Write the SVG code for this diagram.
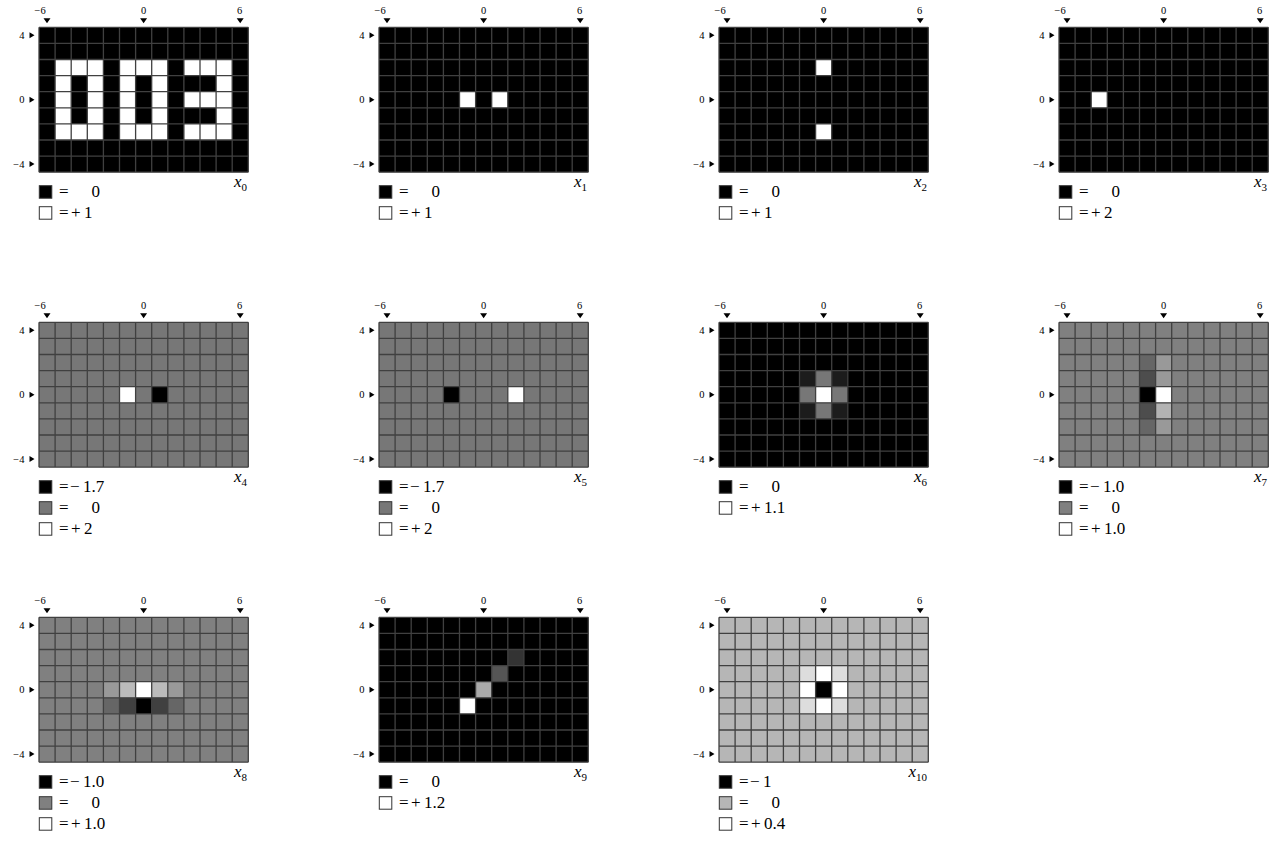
<svg xmlns="http://www.w3.org/2000/svg" xmlns:xlink="http://www.w3.org/1999/xlink" width="1275" height="845" viewBox="0 0 1275 845">
<style>
text{font-family:"Liberation Serif","DejaVu Serif",serif;fill:#000}
.tk{font-size:10.5px}
.lg{font-size:17px}
.lab{font-size:17px}
.sub{font-size:11px;font-style:normal}
.gl{fill:none;stroke:#404040;stroke-width:1.3}
.sw{stroke:#333;stroke-width:1}
</style>
<defs>
<path id="grid" class="gl" d="M39 27.3V172.2M55.1 27.3V172.2M71.2 27.3V172.2M87.3 27.3V172.2M103.4 27.3V172.2M119.5 27.3V172.2M135.6 27.3V172.2M151.7 27.3V172.2M167.8 27.3V172.2M183.9 27.3V172.2M200 27.3V172.2M216.1 27.3V172.2M232.2 27.3V172.2M248.3 27.3V172.2M39 27.3H248.3M39 43.4H248.3M39 59.5H248.3M39 75.6H248.3M39 91.7H248.3M39 107.8H248.3M39 123.9H248.3M39 140H248.3M39 156.1H248.3M39 172.2H248.3"/>
<g id="ticks">
<path d="M43.5 18.3H50.5L47 23.3ZM140.1 18.3H147.1L143.6 23.3ZM236.7 18.3H243.7L240.2 23.3Z" fill="#000"/>
<path d="M29.5 32.3V38.3L34.5 35.3ZM29.5 96.7V102.7L34.5 99.7ZM29.5 161.1V167.1L34.5 164.1Z" fill="#000"/>
<text class="tk" x="45.7" y="14" text-anchor="end">−6</text>
<text class="tk" x="143.5" y="14" text-anchor="middle">0</text>
<text class="tk" x="239.5" y="14" text-anchor="middle">6</text>
<text class="tk" x="24.5" y="38.8" text-anchor="end">4</text>
<text class="tk" x="24.5" y="103.2" text-anchor="end">0</text>
<text class="tk" x="24.5" y="167.6" text-anchor="end">−4</text>
</g>
</defs>

<g id="panel-x0">
<rect x="39" y="27.3" width="209.3" height="144.9" fill="#000"/>
<rect x="55.1" y="59.5" width="48.3" height="80.5" fill="#fff"/>
<rect x="71.2" y="75.6" width="16.1" height="48.3" fill="#000"/>
<rect x="119.5" y="59.5" width="48.3" height="80.5" fill="#fff"/>
<rect x="135.6" y="75.6" width="16.1" height="48.3" fill="#000"/>
<rect x="183.9" y="59.5" width="48.3" height="80.5" fill="#fff"/>
<rect x="183.9" y="75.6" width="32.2" height="16.1" fill="#000"/>
<rect x="183.9" y="107.8" width="32.2" height="16.1" fill="#000"/>
<use xlink:href="#grid"/><use xlink:href="#ticks"/>
<rect class="sw" x="39.3" y="185.7" width="12.5" height="12.5" fill="#000"/>
<text class="lg" y="197"><tspan x="59">=</tspan><tspan x="91.5">0</tspan></text>
<rect class="sw" x="39.3" y="206.7" width="12.5" height="12.5" fill="#fff"/>
<text class="lg" y="218"><tspan x="59">=</tspan><tspan x="71">+</tspan><tspan x="84">1</tspan></text>
<text class="lab" x="247" y="187.3" text-anchor="end"><tspan font-style="italic">x</tspan><tspan class="sub" dy="3.4">0</tspan></text>
</g>

<g id="panel-x1" transform="translate(340,0)">
<rect x="39" y="27.3" width="209.3" height="144.9" fill="#000"/>
<rect x="119.5" y="91.7" width="16.1" height="16.1" fill="#fff"/>
<rect x="151.7" y="91.7" width="16.1" height="16.1" fill="#fff"/>
<use xlink:href="#grid"/><use xlink:href="#ticks"/>
<rect class="sw" x="39.3" y="185.7" width="12.5" height="12.5" fill="#000"/>
<text class="lg" y="197"><tspan x="59">=</tspan><tspan x="91.5">0</tspan></text>
<rect class="sw" x="39.3" y="206.7" width="12.5" height="12.5" fill="#fff"/>
<text class="lg" y="218"><tspan x="59">=</tspan><tspan x="71">+</tspan><tspan x="84">1</tspan></text>
<text class="lab" x="247" y="187.3" text-anchor="end"><tspan font-style="italic">x</tspan><tspan class="sub" dy="3.4">1</tspan></text>
</g>

<g id="panel-x2" transform="translate(680,0)">
<rect x="39" y="27.3" width="209.3" height="144.9" fill="#000"/>
<rect x="135.6" y="59.5" width="16.1" height="16.1" fill="#fff"/>
<rect x="135.6" y="123.9" width="16.1" height="16.1" fill="#fff"/>
<use xlink:href="#grid"/><use xlink:href="#ticks"/>
<rect class="sw" x="39.3" y="185.7" width="12.5" height="12.5" fill="#000"/>
<text class="lg" y="197"><tspan x="59">=</tspan><tspan x="91.5">0</tspan></text>
<rect class="sw" x="39.3" y="206.7" width="12.5" height="12.5" fill="#fff"/>
<text class="lg" y="218"><tspan x="59">=</tspan><tspan x="71">+</tspan><tspan x="84">1</tspan></text>
<text class="lab" x="247" y="187.3" text-anchor="end"><tspan font-style="italic">x</tspan><tspan class="sub" dy="3.4">2</tspan></text>
</g>

<g id="panel-x3" transform="translate(1020,0)">
<rect x="39" y="27.3" width="209.3" height="144.9" fill="#000"/>
<rect x="71.2" y="91.7" width="16.1" height="16.1" fill="#fff"/>
<use xlink:href="#grid"/><use xlink:href="#ticks"/>
<rect class="sw" x="39.3" y="185.7" width="12.5" height="12.5" fill="#000"/>
<text class="lg" y="197"><tspan x="59">=</tspan><tspan x="91.5">0</tspan></text>
<rect class="sw" x="39.3" y="206.7" width="12.5" height="12.5" fill="#fff"/>
<text class="lg" y="218"><tspan x="59">=</tspan><tspan x="71">+</tspan><tspan x="84">2</tspan></text>
<text class="lab" x="247" y="187.3" text-anchor="end"><tspan font-style="italic">x</tspan><tspan class="sub" dy="3.4">3</tspan></text>
</g>

<g id="panel-x4" transform="translate(0,295)">
<rect x="39" y="27.3" width="209.3" height="144.9" fill="#777"/>
<rect x="119.5" y="91.7" width="16.1" height="16.1" fill="#fff"/>
<rect x="151.7" y="91.7" width="16.1" height="16.1" fill="#000"/>
<use xlink:href="#grid"/><use xlink:href="#ticks"/>
<rect class="sw" x="39.3" y="185.7" width="12.5" height="12.5" fill="#000"/>
<text class="lg" y="197"><tspan x="59">=</tspan><tspan x="70">−</tspan><tspan x="83">1.7</tspan></text>
<rect class="sw" x="39.3" y="206.7" width="12.5" height="12.5" fill="#777"/>
<text class="lg" y="218"><tspan x="59">=</tspan><tspan x="91.5">0</tspan></text>
<rect class="sw" x="39.3" y="227.7" width="12.5" height="12.5" fill="#fff"/>
<text class="lg" y="239"><tspan x="59">=</tspan><tspan x="71">+</tspan><tspan x="84">2</tspan></text>
<text class="lab" x="247" y="187.3" text-anchor="end"><tspan font-style="italic">x</tspan><tspan class="sub" dy="3.4">4</tspan></text>
</g>

<g id="panel-x5" transform="translate(340,295)">
<rect x="39" y="27.3" width="209.3" height="144.9" fill="#777"/>
<rect x="103.4" y="91.7" width="16.1" height="16.1" fill="#000"/>
<rect x="167.8" y="91.7" width="16.1" height="16.1" fill="#fff"/>
<use xlink:href="#grid"/><use xlink:href="#ticks"/>
<rect class="sw" x="39.3" y="185.7" width="12.5" height="12.5" fill="#000"/>
<text class="lg" y="197"><tspan x="59">=</tspan><tspan x="70">−</tspan><tspan x="83">1.7</tspan></text>
<rect class="sw" x="39.3" y="206.7" width="12.5" height="12.5" fill="#777"/>
<text class="lg" y="218"><tspan x="59">=</tspan><tspan x="91.5">0</tspan></text>
<rect class="sw" x="39.3" y="227.7" width="12.5" height="12.5" fill="#fff"/>
<text class="lg" y="239"><tspan x="59">=</tspan><tspan x="71">+</tspan><tspan x="84">2</tspan></text>
<text class="lab" x="247" y="187.3" text-anchor="end"><tspan font-style="italic">x</tspan><tspan class="sub" dy="3.4">5</tspan></text>
</g>

<g id="panel-x6" transform="translate(680,295)">
<rect x="39" y="27.3" width="209.3" height="144.9" fill="#000"/>
<rect x="119.5" y="75.6" width="16.1" height="16.1" fill="#1c1c1c"/>
<rect x="151.7" y="75.6" width="16.1" height="16.1" fill="#1c1c1c"/>
<rect x="119.5" y="107.8" width="16.1" height="16.1" fill="#1c1c1c"/>
<rect x="151.7" y="107.8" width="16.1" height="16.1" fill="#1c1c1c"/>
<rect x="135.6" y="75.6" width="16.1" height="16.1" fill="#777"/>
<rect x="119.5" y="91.7" width="16.1" height="16.1" fill="#777"/>
<rect x="151.7" y="91.7" width="16.1" height="16.1" fill="#777"/>
<rect x="135.6" y="107.8" width="16.1" height="16.1" fill="#777"/>
<rect x="135.6" y="91.7" width="16.1" height="16.1" fill="#fff"/>
<use xlink:href="#grid"/><use xlink:href="#ticks"/>
<rect class="sw" x="39.3" y="185.7" width="12.5" height="12.5" fill="#000"/>
<text class="lg" y="197"><tspan x="59">=</tspan><tspan x="91.5">0</tspan></text>
<rect class="sw" x="39.3" y="206.7" width="12.5" height="12.5" fill="#fff"/>
<text class="lg" y="218"><tspan x="59">=</tspan><tspan x="71">+</tspan><tspan x="84">1.1</tspan></text>
<text class="lab" x="247" y="187.3" text-anchor="end"><tspan font-style="italic">x</tspan><tspan class="sub" dy="3.4">6</tspan></text>
</g>

<g id="panel-x7" transform="translate(1020,295)">
<rect x="39" y="27.3" width="209.3" height="144.9" fill="#808080"/>
<rect x="119.5" y="59.5" width="16.1" height="16.1" fill="#666"/>
<rect x="119.5" y="75.6" width="16.1" height="16.1" fill="#4d4d4d"/>
<rect x="119.5" y="91.7" width="16.1" height="16.1" fill="#000"/>
<rect x="119.5" y="107.8" width="16.1" height="16.1" fill="#4d4d4d"/>
<rect x="119.5" y="123.9" width="16.1" height="16.1" fill="#666"/>
<rect x="135.6" y="59.5" width="16.1" height="16.1" fill="#999"/>
<rect x="135.6" y="75.6" width="16.1" height="16.1" fill="#999"/>
<rect x="135.6" y="91.7" width="16.1" height="16.1" fill="#fff"/>
<rect x="135.6" y="107.8" width="16.1" height="16.1" fill="#b3b3b3"/>
<rect x="135.6" y="123.9" width="16.1" height="16.1" fill="#999"/>
<use xlink:href="#grid"/><use xlink:href="#ticks"/>
<rect class="sw" x="39.3" y="185.7" width="12.5" height="12.5" fill="#000"/>
<text class="lg" y="197"><tspan x="59">=</tspan><tspan x="70">−</tspan><tspan x="83">1.0</tspan></text>
<rect class="sw" x="39.3" y="206.7" width="12.5" height="12.5" fill="#808080"/>
<text class="lg" y="218"><tspan x="59">=</tspan><tspan x="91.5">0</tspan></text>
<rect class="sw" x="39.3" y="227.7" width="12.5" height="12.5" fill="#fff"/>
<text class="lg" y="239"><tspan x="59">=</tspan><tspan x="71">+</tspan><tspan x="84">1.0</tspan></text>
<text class="lab" x="247" y="187.3" text-anchor="end"><tspan font-style="italic">x</tspan><tspan class="sub" dy="3.4">7</tspan></text>
</g>

<g id="panel-x8" transform="translate(0,590)">
<rect x="39" y="27.3" width="209.3" height="144.9" fill="#808080"/>
<rect x="103.4" y="91.7" width="16.1" height="16.1" fill="#999"/>
<rect x="119.5" y="91.7" width="16.1" height="16.1" fill="#bbb"/>
<rect x="135.6" y="91.7" width="16.1" height="16.1" fill="#fff"/>
<rect x="151.7" y="91.7" width="16.1" height="16.1" fill="#bbb"/>
<rect x="167.8" y="91.7" width="16.1" height="16.1" fill="#999"/>
<rect x="103.4" y="107.8" width="16.1" height="16.1" fill="#666"/>
<rect x="119.5" y="107.8" width="16.1" height="16.1" fill="#404040"/>
<rect x="135.6" y="107.8" width="16.1" height="16.1" fill="#000"/>
<rect x="151.7" y="107.8" width="16.1" height="16.1" fill="#404040"/>
<rect x="167.8" y="107.8" width="16.1" height="16.1" fill="#666"/>
<use xlink:href="#grid"/><use xlink:href="#ticks"/>
<rect class="sw" x="39.3" y="185.7" width="12.5" height="12.5" fill="#000"/>
<text class="lg" y="197"><tspan x="59">=</tspan><tspan x="70">−</tspan><tspan x="83">1.0</tspan></text>
<rect class="sw" x="39.3" y="206.7" width="12.5" height="12.5" fill="#808080"/>
<text class="lg" y="218"><tspan x="59">=</tspan><tspan x="91.5">0</tspan></text>
<rect class="sw" x="39.3" y="227.7" width="12.5" height="12.5" fill="#fff"/>
<text class="lg" y="239"><tspan x="59">=</tspan><tspan x="71">+</tspan><tspan x="84">1.0</tspan></text>
<text class="lab" x="247" y="187.3" text-anchor="end"><tspan font-style="italic">x</tspan><tspan class="sub" dy="3.4">8</tspan></text>
</g>

<g id="panel-x9" transform="translate(340,590)">
<rect x="39" y="27.3" width="209.3" height="144.9" fill="#000"/>
<rect x="119.5" y="107.8" width="16.1" height="16.1" fill="#fff"/>
<rect x="135.6" y="91.7" width="16.1" height="16.1" fill="#aaa"/>
<rect x="151.7" y="75.6" width="16.1" height="16.1" fill="#555"/>
<rect x="167.8" y="59.5" width="16.1" height="16.1" fill="#333"/>
<use xlink:href="#grid"/><use xlink:href="#ticks"/>
<rect class="sw" x="39.3" y="185.7" width="12.5" height="12.5" fill="#000"/>
<text class="lg" y="197"><tspan x="59">=</tspan><tspan x="91.5">0</tspan></text>
<rect class="sw" x="39.3" y="206.7" width="12.5" height="12.5" fill="#fff"/>
<text class="lg" y="218"><tspan x="59">=</tspan><tspan x="71">+</tspan><tspan x="84">1.2</tspan></text>
<text class="lab" x="247" y="187.3" text-anchor="end"><tspan font-style="italic">x</tspan><tspan class="sub" dy="3.4">9</tspan></text>
</g>

<g id="panel-x10" transform="translate(680,590)">
<rect x="39" y="27.3" width="209.3" height="144.9" fill="#b6b6b6"/>
<rect x="119.5" y="75.6" width="16.1" height="16.1" fill="#ddd"/>
<rect x="151.7" y="75.6" width="16.1" height="16.1" fill="#ddd"/>
<rect x="119.5" y="107.8" width="16.1" height="16.1" fill="#ddd"/>
<rect x="151.7" y="107.8" width="16.1" height="16.1" fill="#ddd"/>
<rect x="135.6" y="75.6" width="16.1" height="16.1" fill="#fff"/>
<rect x="119.5" y="91.7" width="16.1" height="16.1" fill="#fff"/>
<rect x="151.7" y="91.7" width="16.1" height="16.1" fill="#fff"/>
<rect x="135.6" y="107.8" width="16.1" height="16.1" fill="#fff"/>
<rect x="135.6" y="91.7" width="16.1" height="16.1" fill="#000"/>
<use xlink:href="#grid"/><use xlink:href="#ticks"/>
<rect class="sw" x="39.3" y="185.7" width="12.5" height="12.5" fill="#000"/>
<text class="lg" y="197"><tspan x="59">=</tspan><tspan x="70">−</tspan><tspan x="83">1</tspan></text>
<rect class="sw" x="39.3" y="206.7" width="12.5" height="12.5" fill="#b6b6b6"/>
<text class="lg" y="218"><tspan x="59">=</tspan><tspan x="91.5">0</tspan></text>
<rect class="sw" x="39.3" y="227.7" width="12.5" height="12.5" fill="#fff"/>
<text class="lg" y="239"><tspan x="59">=</tspan><tspan x="71">+</tspan><tspan x="84">0.4</tspan></text>
<text class="lab" x="247" y="187.3" text-anchor="end"><tspan font-style="italic">x</tspan><tspan class="sub" dy="3.4">10</tspan></text>
</g>
</svg>
